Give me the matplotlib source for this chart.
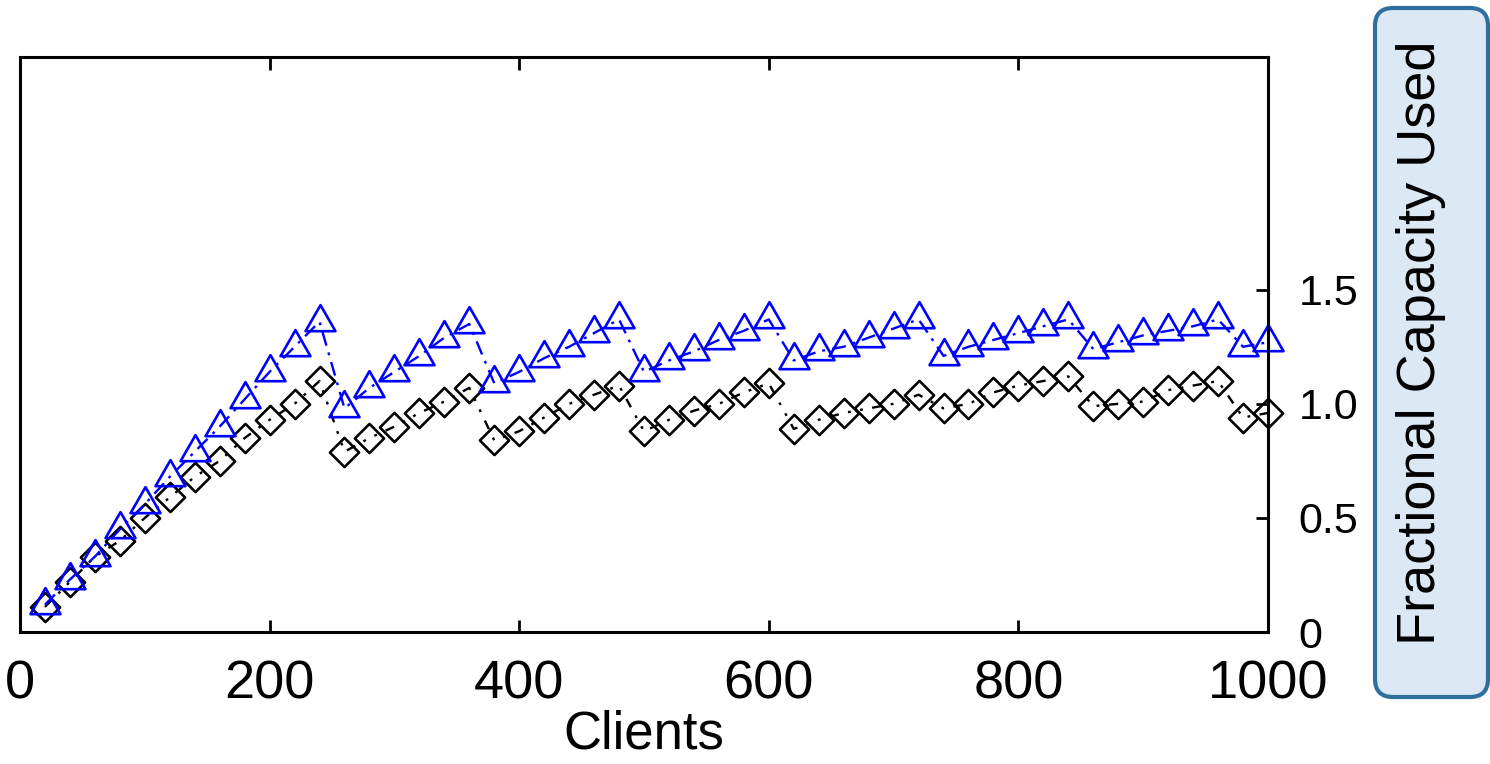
import matplotlib
matplotlib.use("Agg")
import matplotlib.pyplot as plt
from matplotlib.patches import FancyBboxPatch
from matplotlib.path import Path

plt.rcParams['font.family'] = ['Liberation Sans', 'DejaVu Sans']

clients = [20, 40, 60, 80, 100, 120, 140, 160, 180, 200,
           220, 240, 260, 280, 300, 320, 340, 360, 380, 400,
           420, 440, 460, 480, 500, 520, 540, 560, 580, 600,
           620, 640, 660, 680, 700, 720, 740, 760, 780, 800,
           820, 840, 860, 880, 900, 920, 940, 960, 980, 1000]

tri_vals = [0.12, 0.23, 0.33, 0.45, 0.56, 0.68, 0.79, 0.90, 1.02, 1.14,
            1.25, 1.36, 0.98, 1.07, 1.14, 1.21, 1.29, 1.35, 1.09, 1.14,
            1.20, 1.25, 1.31, 1.37, 1.14, 1.19, 1.23, 1.28, 1.32, 1.37,
            1.19, 1.23, 1.25, 1.29, 1.33, 1.37, 1.21, 1.25, 1.28, 1.31,
            1.34, 1.37, 1.24, 1.27, 1.30, 1.32, 1.34, 1.37, 1.25, 1.27]

dia_vals = [0.11, 0.22, 0.33, 0.40, 0.50, 0.59, 0.68, 0.75, 0.85, 0.93,
            1.00, 1.10, 0.79, 0.85, 0.90, 0.96, 1.01, 1.07, 0.84, 0.88,
            0.94, 1.00, 1.04, 1.08, 0.88, 0.93, 0.97, 1.00, 1.05, 1.09,
            0.89, 0.93, 0.96, 0.98, 1.00, 1.04, 0.98, 1.00, 1.05, 1.08,
            1.10, 1.12, 0.99, 1.00, 1.01, 1.06, 1.08, 1.10, 0.94, 0.96]

x_ticks = [0, 200, 400, 600, 800, 1000]
y_ticks = [0, 0.5, 1.0, 1.5]
y_tick_labels = ['0', '0.5', '1.0', '1.5']
x_label = 'Clients'
y_label = 'Fractional Capacity Used'

fig = plt.figure(figsize=(14.9, 7.64), dpi=100)
ax = fig.add_axes([20/1490, 1-632/764, 1248/1490, 575/764])

tri_marker = Path([(-1.15, -0.667), (1.15, -0.667), (0, 1.333), (-1.15, -0.667)],
                  [Path.MOVETO, Path.LINETO, Path.LINETO, Path.CLOSEPOLY])
dia_marker = Path([(0, 1), (1, 0), (0, -1), (-1, 0), (0, 1)],
                  [Path.MOVETO, Path.LINETO, Path.LINETO, Path.LINETO, Path.CLOSEPOLY])

ax.plot(clients, dia_vals, color='black', lw=1.7, dashes=(4, 4, 1.2, 4, 1.2, 4),
        marker=dia_marker, markersize=21, markerfacecolor='none',
        markeredgecolor='black', markeredgewidth=1.9, clip_on=False)
ax.plot(clients, tri_vals, color='#0000ff', lw=1.7, dashes=(6, 3, 1.2, 3),
        marker=tri_marker, markersize=25, markerfacecolor='none',
        markeredgecolor='#0000ff', markeredgewidth=1.9, clip_on=False)

ax.set_xlim(0, 1000)
ax.set_ylim(0, 2.52)
ax.set_xticks(x_ticks)
ax.set_xticklabels([str(v) for v in x_ticks], fontsize=39)
ax.yaxis.tick_right()
ax.set_yticks(y_ticks)
ax.set_yticklabels(y_tick_labels, fontsize=31)
ax.tick_params(axis='x', direction='in', length=9, width=2, top=True, bottom=True, pad=20)
ax.tick_params(axis='y', direction='in', length=9, width=2, right=True, left=False, pad=22)
for s in ax.spines.values():
    s.set_linewidth(2.2)
ax.set_xlabel(x_label, fontsize=38, labelpad=0)

box = FancyBboxPatch((13.75, 0.67), 1.13, 6.89,
                     boxstyle="round,pad=0,rounding_size=0.18",
                     transform=fig.dpi_scale_trans,
                     facecolor='#dce9f5', edgecolor='#2f6f9f', linewidth=3)
fig.patches.append(box)
fig.text(1421/1490, 1-343/764, y_label, rotation=90, ha='center', va='center',
         fontsize=39)

fig.savefig('out.png', dpi=100)
